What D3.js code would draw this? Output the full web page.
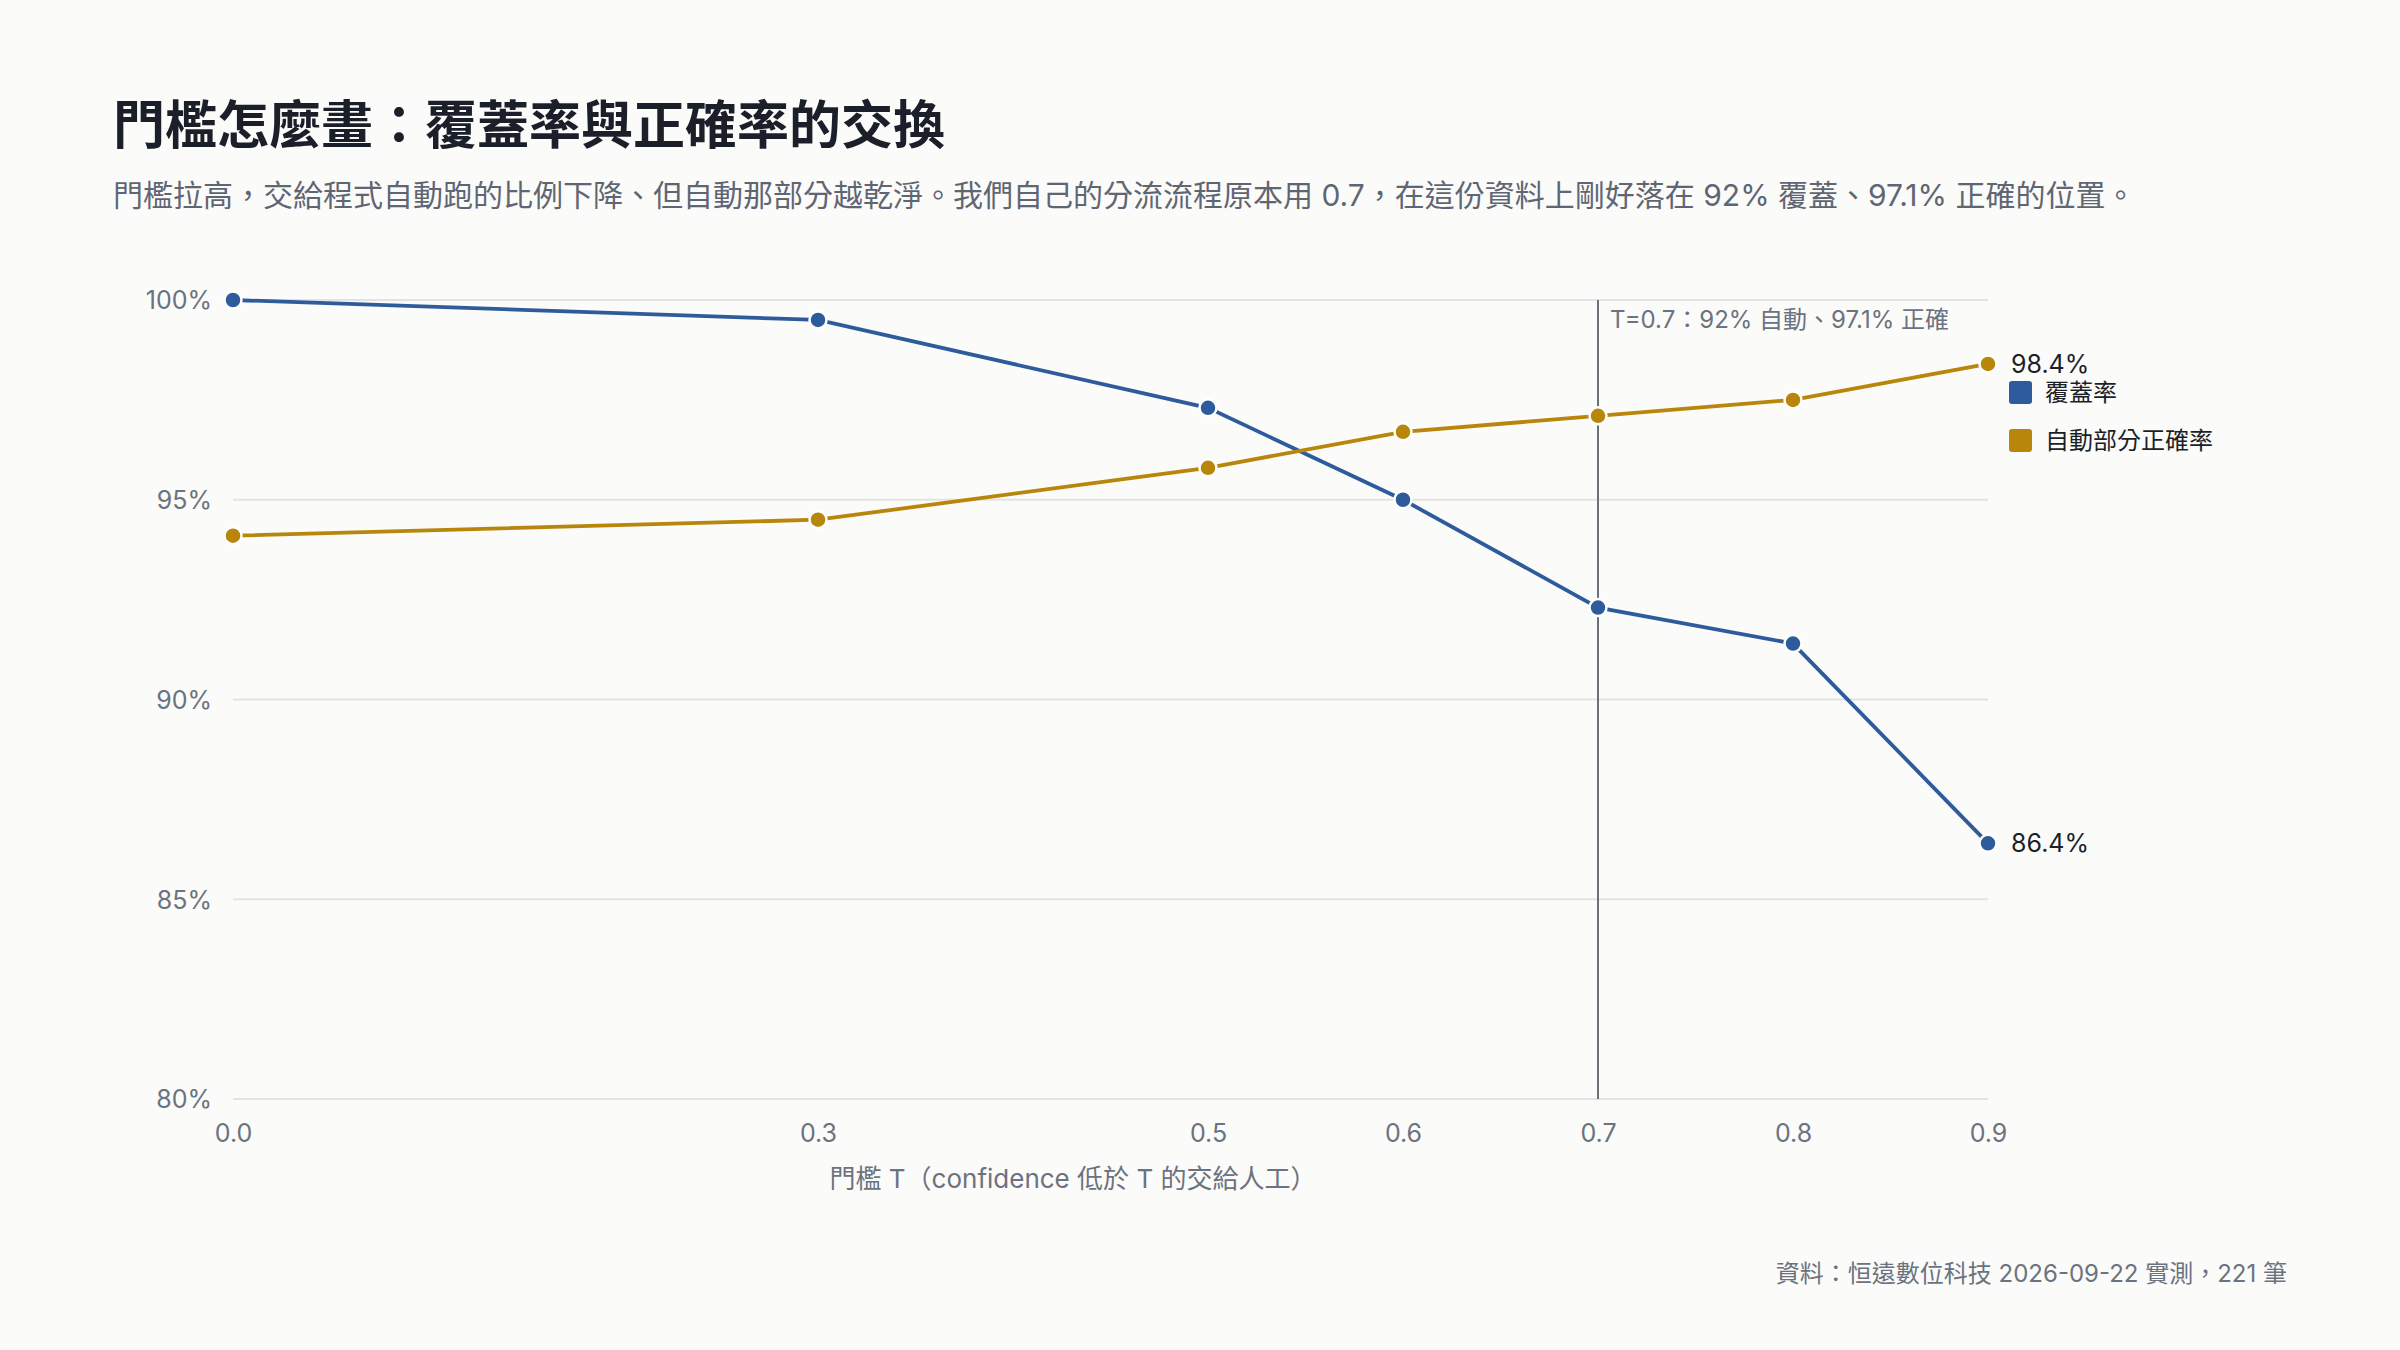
<!DOCTYPE html>
<html>
<head>
<meta charset="utf-8">
<script src="https://cdn.jsdelivr.net/npm/d3@7"></script>
<style>
  html, body { margin: 0; padding: 0; background: #fbfbf9; }
  svg text { font-family: Inter, "Noto Sans CJK TC", sans-serif; }
</style>
</head>
<body>
<div id="chart"></div>
<script>
var width = 2400, height = 1350;
var margin = {top: 300, right: 412, bottom: 251, left: 233};

// data
var thresholds = [0.0, 0.3, 0.5, 0.6, 0.7, 0.8, 0.9];
var coverage = [100, 99.5, 97.3, 95.0, 92.3, 91.4, 86.4];
var accuracy = [94.1, 94.5, 95.8, 96.7, 97.1, 97.5, 98.4];
var yTicks = [80, 85, 90, 95, 100];
var seriesNames = ["覆蓋率", "自動部分正確率"];
var colors = ["#2e5b9b", "#b8860b"];
var marked = 0.7;

var svg = d3.select("#chart")
  .append("svg")
  .attr("width", width)
  .attr("height", height);

svg.append("rect")
  .attr("width", width)
  .attr("height", height)
  .attr("fill", "#fbfbf9");

var x = d3.scaleLinear().domain([0, 0.9]).range([margin.left, width - margin.right]);
var y = d3.scaleLinear().domain([80, 100]).range([height - margin.bottom, margin.top]);

// title
svg.append("text")
  .text("門檻怎麼畫：覆蓋率與正確率的交換")
  .attr("x", 113)
  .attr("y", 144)
  .attr("font-size", 52)
  .attr("font-weight", 700)
  .attr("fill", "#1b1f2a");

svg.append("text")
  .text("門檻拉高，交給程式自動跑的比例下降、但自動那部分越乾淨。我們自己的分流流程原本用 0.7，在這份資料上剛好落在 92% 覆蓋、97.1% 正確的位置。")
  .attr("x", 113)
  .attr("y", 206)
  .attr("font-size", 30)
  .attr("fill", "#5f6673");

// grid
svg.append("g")
  .selectAll("line")
  .data(yTicks)
  .enter().append("line")
  .attr("x1", x(0))
  .attr("x2", x(0.9))
  .attr("y1", function(d){ return y(d); })
  .attr("y2", function(d){ return y(d); })
  .attr("stroke", "#e3e3e3")
  .attr("stroke-width", 2);

var yAxis = svg.append("g")
  .attr("transform", "translate(" + (x(0) - 18) + ",0)")
  .call(d3.axisLeft(y).tickValues(yTicks).tickSize(0).tickFormat(function(d){ return d + "%"; }));
yAxis.select(".domain").remove();
yAxis.selectAll("text")
  .attr("font-size", 25)
  .attr("fill", "#6b7280")
  .attr("dy", "0.35em");

var xAxis = svg.append("g")
  .attr("transform", "translate(0," + (y(80) + 22) + ")")
  .call(d3.axisBottom(x).tickValues(thresholds).tickSize(0).tickFormat(d3.format(".1f")));
xAxis.select(".domain").remove();
xAxis.selectAll("text")
  .attr("font-size", 25)
  .attr("fill", "#6b7280")
  .attr("dy", "0.71em");

svg.append("text")
  .text("門檻 T（confidence 低於 T 的交給人工）")
  .attr("x", 1073)
  .attr("y", 1188)
  .attr("text-anchor", "middle")
  .attr("font-size", 26)
  .attr("fill", "#6b7280");

// marker line at T = 0.7
svg.append("line")
  .attr("x1", x(marked))
  .attr("x2", x(marked))
  .attr("y1", y(100))
  .attr("y2", y(80))
  .attr("stroke", "#6b6f78")
  .attr("stroke-width", 2);

svg.append("text")
  .text("T=0.7：92% 自動、97.1% 正確")
  .attr("x", x(marked) + 12)
  .attr("y", y(100) + 28)
  .attr("font-size", 24)
  .attr("fill", "#6b7280");

// lines and points
var series = [coverage, accuracy];
var line = d3.line()
  .x(function(d, i){ return x(thresholds[i]); })
  .y(function(d){ return y(d); });

series.forEach(function(values, k){
  svg.append("path")
    .datum(values)
    .attr("d", line)
    .attr("fill", "none")
    .attr("stroke", colors[k])
    .attr("stroke-width", 3.8);

  svg.append("g")
    .selectAll("circle")
    .data(values)
    .enter().append("circle")
    .attr("cx", function(d, i){ return x(thresholds[i]); })
    .attr("cy", function(d){ return y(d); })
    .attr("r", 8.5)
    .attr("fill", colors[k])
    .attr("stroke", "#ffffff")
    .attr("stroke-width", 2.5);

  var last = values[values.length - 1];
  svg.append("text")
    .text(last.toFixed(1) + "%")
    .attr("x", x(0.9) + 23)
    .attr("y", y(last))
    .attr("dy", "0.35em")
    .attr("font-size", 25)
    .attr("fill", "#1b1f2a");
});

// legend
var legend = svg.append("g")
  .selectAll("g")
  .data(seriesNames)
  .enter().append("g")
  .attr("transform", function(d, i){ return "translate(2009," + (381 + i * 48) + ")"; });

legend.append("rect")
  .attr("width", 23)
  .attr("height", 23)
  .attr("rx", 3)
  .attr("fill", function(d, i){ return colors[i]; });

legend.append("text")
  .text(function(d){ return d; })
  .attr("x", 36)
  .attr("y", 12)
  .attr("dy", "0.35em")
  .attr("font-size", 24)
  .attr("fill", "#1b1f2a");

// source
svg.append("text")
  .text("資料：恒遠數位科技 2026-09-22 實測，221 筆")
  .attr("x", 2287)
  .attr("y", 1282)
  .attr("text-anchor", "end")
  .attr("font-size", 24)
  .attr("fill", "#6b7280");
</script>
</body>
</html>
